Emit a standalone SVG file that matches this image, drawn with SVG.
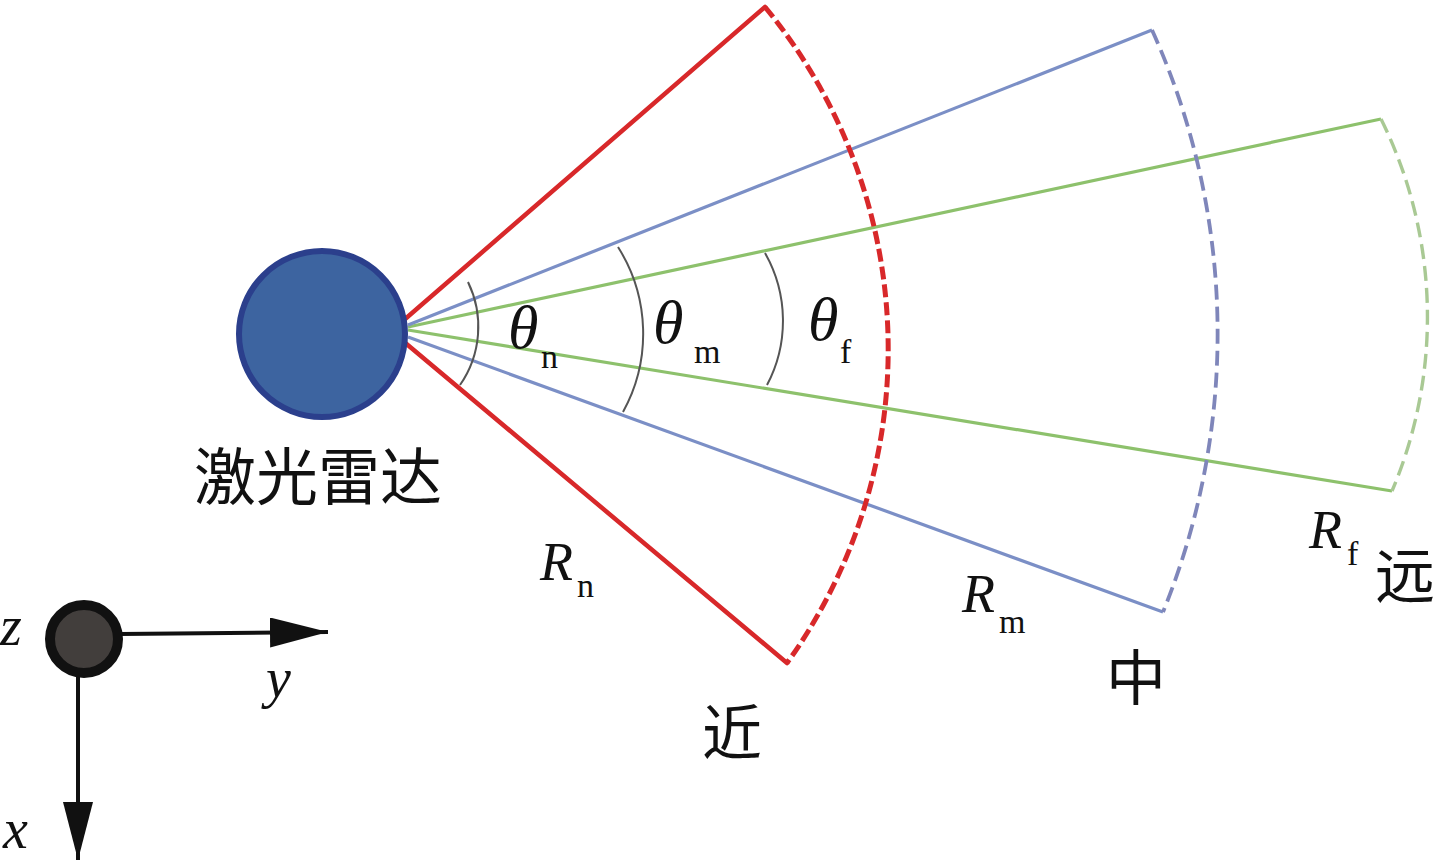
<svg xmlns="http://www.w3.org/2000/svg" width="1438" height="863" viewBox="0 0 1438 863">
<style>
.red{stroke:#d8282a;stroke-width:4.5;fill:none;stroke-linecap:round}
.blue{stroke:#7b8fc6;stroke-width:3.2;fill:none}
.green{stroke:#8dc16c;stroke-width:3.2;fill:none}
.reddash{stroke:#d8282a;stroke-width:5;fill:none;stroke-dasharray:13 5}
.bluedash{stroke:#7f86ba;stroke-width:3.8;fill:none;stroke-dasharray:15 7}
.greendash{stroke:#a9c994;stroke-width:3.4;fill:none;stroke-dasharray:15 7}
.ang{stroke:#555;stroke-width:2;fill:none}
.it{font-family:"Liberation Serif","Times New Roman",serif;font-style:italic;fill:#111}
.sub{font-family:"Liberation Serif","Times New Roman",serif;fill:#111;font-size:34px}
.cjk{font-family:"Liberation Serif","Noto Sans CJK SC",serif;fill:#111}
.axis{stroke:#111;stroke-width:4;fill:none}
</style>
<defs>
<marker id="arr" markerWidth="60" markerHeight="32" refX="58" refY="15" orient="auto" markerUnits="userSpaceOnUse">
<path d="M0,0 L58,15 L0,30 Z" fill="#111"/>
</marker>
</defs>
<g id="connectors">
<line class="green" x1="408" y1="327" x2="1381" y2="119"/>
<line class="green" x1="408" y1="330" x2="1392" y2="491"/>
<line class="blue" x1="408" y1="325" x2="1152" y2="30"/>
<line class="blue" x1="408" y1="337" x2="1163" y2="612"/>
<line class="red" x1="404" y1="320" x2="765" y2="7"/>
<line class="red" x1="403" y1="341" x2="787" y2="663"/>
<path class="reddash" d="M765,7 A537,537 0 0 1 787,663"/>
<path class="bluedash" d="M1152,30 A736,736 0 0 1 1163,612"/>
<path class="greendash" d="M1381,119 A445,445 0 0 1 1392,491"/>
<path class="ang" d="M468,282 A102,102 0 0 1 460,385"/>
<path class="ang" d="M618,247 A162,162 0 0 1 623,412"/>
<path class="ang" d="M765,253 A137,137 0 0 1 767,385"/>
</g>
<g id="lidar">
<circle cx="322" cy="334" r="83" fill="#3d64a0" stroke="#2b3f8c" stroke-width="6"/>
<text class="cjk" x="194" y="500" font-size="62">激光雷达</text>
</g>
<g id="labels">
<text class="it" x="508" y="348" font-size="62">θ</text>
<text class="sub" x="541" y="368">n</text>
<text class="it" x="653" y="343" font-size="62">θ</text>
<text class="sub" x="694" y="363">m</text>
<text class="it" x="808" y="340" font-size="62">θ</text>
<text class="sub" x="840" y="363">f</text>
<text class="it" x="540" y="580" font-size="54">R</text>
<text class="sub" x="577" y="597">n</text>
<text class="it" x="962" y="612" font-size="54">R</text>
<text class="sub" x="999" y="633">m</text>
<text class="it" x="1309" y="548" font-size="54">R</text>
<text class="sub" x="1347" y="565">f</text>
<text class="cjk" x="702" y="755" font-size="60">近</text>
<text class="cjk" x="1106" y="700" font-size="60">中</text>
<text class="cjk" x="1375" y="598" font-size="60">远</text>
</g>
<g id="axes">
<line class="axis" x1="120" y1="634" x2="328" y2="632" marker-end="url(#arr)"/>
<line class="axis" x1="78" y1="676" x2="78" y2="860" marker-end="url(#arr)"/>
<circle cx="84" cy="639" r="34" fill="#423e3c" stroke="#111" stroke-width="10"/>
<text class="it" x="0" y="645" font-size="56">z</text>
<text class="it" x="266" y="697" font-size="56">y</text>
<text class="it" x="3" y="848" font-size="56">x</text>
</g>
</svg>
